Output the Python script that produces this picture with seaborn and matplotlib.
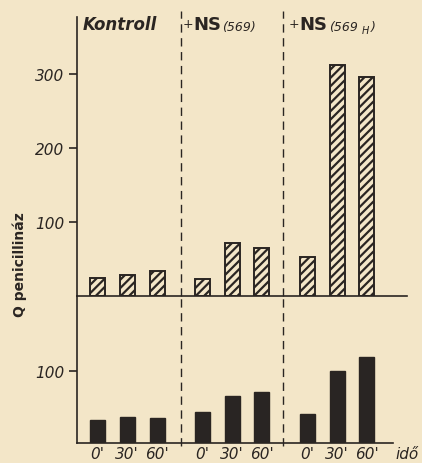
import matplotlib
matplotlib.use("Agg")
import matplotlib.pyplot as plt
import seaborn as sns
import pandas as pd

# values
groups = ["Kontroll", "+NS(569)", "+NS(569H)"]
times = ["0'", "30'", "60'"]
upper_vals = [24, 28, 34, 23, 72, 65, 53, 312, 296]
lower_vals = [32, 36, 35, 43, 65, 71, 40, 100, 119]
upper_ticks = [100, 200, 300]
lower_ticks = [100]

paper = "#f3e6c8"
ink = "#2a2522"

sns.set_theme(style="ticks", rc={
    "figure.facecolor": paper,
    "axes.facecolor": paper,
    "axes.edgecolor": ink,
    "axes.linewidth": 1.2,
    "hatch.linewidth": 1.6,
    "hatch.color": ink,
    "text.color": ink,
    "xtick.color": ink,
    "ytick.color": ink,
})
plt.rcParams["font.family"] = ["DejaVu Sans"]

rows = []
for g, grp in enumerate(groups):
    for t, tm in enumerate(times):
        k = g * 3 + t
        rows.append({"group": grp, "time": tm, "pos": g * 3.5 + t,
                     "upper": upper_vals[k], "lower": lower_vals[k]})
df = pd.DataFrame(rows)

W, H = 422, 464


def box(l, t, r, b):
    return [l / W, 1 - b / H, (r - l) / W, (b - t) / H]


def fxy(x, y):
    return x / W, 1 - y / H


fig = plt.figure(figsize=(W / 100, H / 100), dpi=100)
ax_top = fig.add_axes(box(77, 18, 407, 297))
ax_bot = fig.add_axes(box(77, 297, 393, 444))
ax_top.patch.set_visible(False)
ax_bot.patch.set_visible(False)

sns.barplot(data=df, x="pos", y="upper", native_scale=True, width=0.5,
            color=paper, edgecolor=ink, linewidth=1.4, hatch="////",
            errorbar=None, ax=ax_top)
sns.barplot(data=df, x="pos", y="lower", native_scale=True, width=0.5,
            color=ink, edgecolor=ink, linewidth=1,
            errorbar=None, ax=ax_bot)

for bar in ax_top.patches:
    bar.set_facecolor(paper)

ax_top.set_xlim(-20 / 30, 310 / 30)
ax_bot.set_xlim(-20 / 30, 296 / 30)
ax_top.set_ylim(0, 279 / 0.74)
ax_bot.set_ylim(0, 147 / 0.72)

for ax in (ax_top, ax_bot):
    sns.despine(ax=ax)
    ax.set_xlabel("")
    ax.set_ylabel("")
    ax.tick_params(axis="y", direction="out", length=6, width=1.2, pad=3,
                   labelsize=11)

ax_top.set_yticks(upper_ticks)
ax_top.set_yticklabels([str(v) for v in upper_ticks], fontstyle="italic",
                       fontsize=11)
ax_top.set_xticks([])
ax_bot.set_yticks(lower_ticks)
ax_bot.set_yticklabels([str(v) for v in lower_ticks], fontstyle="italic",
                       fontsize=11)
ax_bot.set_xticks(df["pos"])
ax_bot.set_xticklabels(df["time"], fontstyle="italic", fontsize=11)
ax_bot.tick_params(axis="x", length=0, pad=2)

# dashed separators between the groups
for xp in (2.8, 6.2):
    ax_top.axvline(xp, ymin=0, ymax=1.02, color=ink, lw=1,
                   ls=(0, (6, 4)), clip_on=False)
    ax_bot.axvline(xp, ymin=-0.02, ymax=1, color=ink, lw=1,
                   ls=(0, (6, 4)), clip_on=False)

# group headers
fig.text(*fxy(83, 25), "Kontroll", fontsize=12, fontweight="bold",
         fontstyle="italic", va="center")
fig.text(*fxy(183, 25), "+", fontsize=9, va="center")
fig.text(*fxy(193, 25), "NS", fontsize=13, fontweight="bold", va="center")
fig.text(*fxy(222, 27), "(569)", fontsize=9, fontstyle="italic", va="center")
fig.text(*fxy(289, 25), "+", fontsize=9, va="center")
fig.text(*fxy(299, 25), "NS", fontsize=13, fontweight="bold", va="center")
fig.text(*fxy(329, 27), "(569", fontsize=9, fontstyle="italic", va="center")
fig.text(*fxy(362, 31), "H", fontsize=7, fontstyle="italic", va="center")
fig.text(*fxy(371, 27), ")", fontsize=9, fontstyle="italic", va="center")

fig.text(*fxy(20, 265), "Q penicillináz", rotation=90, fontsize=10,
         fontweight="semibold", ha="center", va="center")
fig.text(*fxy(395, 455), "idő", fontsize=11, fontstyle="italic",
         va="center")

fig.savefig("out.png", dpi=100, facecolor=paper)
